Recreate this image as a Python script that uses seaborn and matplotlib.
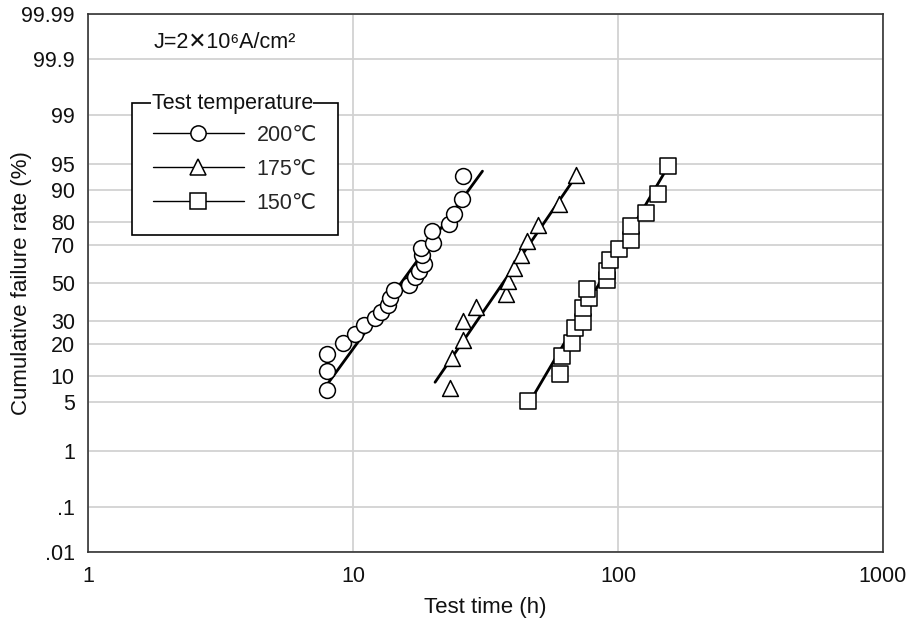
import numpy as np
import pandas as pd
import matplotlib
matplotlib.use("Agg")
import matplotlib.pyplot as plt
from matplotlib.lines import Line2D
from matplotlib.ticker import NullLocator, FixedLocator, FixedFormatter
import seaborn as sns
from statistics import NormalDist

# ---- data ----
t200_time = [8.0, 8.0, 8.0, 9.2, 10.2, 11.0, 12.1, 12.7, 13.6, 13.8, 14.3, 16.3,
             17.2, 17.8, 18.6, 18.2, 18.1, 20.0, 19.8, 23.1, 24.1, 25.8, 26.1]
t200_pct = [6.9, 11.3, 16.2, 20.4, 23.9, 28.1, 31.3, 34.5, 38.2, 41.9, 46.1, 49.1,
            53.5, 56.8, 60.3, 65.1, 68.5, 70.9, 76.2, 79.4, 83.1, 87.8, 93.1]

t175_time = [23.3, 23.7, 25.9, 25.9, 29.2, 37.9, 38.5, 40.6, 43.1, 45.4, 50.0, 60.0, 69.5]
t175_pct = [7.4, 14.9, 21.4, 29.9, 36.9, 43.9, 51.1, 58.2, 65.1, 72.0, 79.0, 86.4, 93.3]

t150_time = [45.6, 60.4, 61.6, 67.2, 68.8, 73.6, 73.6, 77.9, 76.2, 90.7, 90.7, 92.9,
             100.9, 111.7, 111.7, 127.2, 141.9, 154.8]
t150_pct = [5.2, 10.3, 15.6, 20.4, 26.8, 29.6, 36.6, 42.0, 46.7, 51.8, 56.6, 62.7,
            68.1, 72.4, 78.5, 83.4, 89.0, 94.7]

# fitted lognormal lines (end points)
fit200_time, fit200_pct = [8.1, 30.8], [8.5, 93.9]
fit175_time, fit175_pct = [20.4, 67.3], [8.5, 92.0]
fit150_time, fit150_pct = [48.6, 149.1], [6.4, 93.5]

labels = ["200℃", "175℃", "150℃"]
markers = ["o", "^", "s"]

y_ticks = [0.01, 0.1, 1, 5, 10, 20, 30, 50, 70, 80, 90, 95, 99, 99.9, 99.99]
y_ticklabels = [".01", ".1", "1", "5", "10", "20", "30", "50", "70", "80", "90",
                "95", "99", "99.9", "99.99"]
x_ticks = [1, 10, 100, 1000]
x_ticklabels = ["1", "10", "100", "1000"]

# ---- style ----
sns.set_theme(style="white")
plt.rcParams["font.family"] = ["Liberation Sans", "DejaVu Sans"]

# probability (probit) scale
_nd = NormalDist()
_ppf = np.vectorize(_nd.inv_cdf, otypes=[float])
_cdf = np.vectorize(_nd.cdf, otypes=[float])


def probit(p):
    p = np.clip(np.asarray(p, dtype=float) / 100.0, 1e-9, 1 - 1e-9)
    return _ppf(p)


def probit_inv(z):
    return _cdf(np.asarray(z, dtype=float)) * 100.0


fig = plt.figure(figsize=(9.09, 6.27), dpi=100)
ax = fig.add_axes([88 / 909, 1 - 552 / 627, 795 / 909, 538 / 627])

series = [
    (t200_time, t200_pct, fit200_time, fit200_pct),
    (t175_time, t175_pct, fit175_time, fit175_pct),
    (t150_time, t150_pct, fit150_time, fit150_pct),
]

for (tx, py, fx, fy), mk in zip(series, markers):
    sns.lineplot(x=fx, y=fy, color="black", linewidth=2.0, ax=ax,
                 legend=False, sort=False, zorder=2)
    sns.scatterplot(x=tx, y=py, marker=mk, s=130, facecolor="white",
                    edgecolor="black", linewidth=1.1, ax=ax, legend=False, zorder=3)

ax.set_xscale("log")
ax.set_yscale("function", functions=(probit, probit_inv))
ax.set_xlim(1, 1000)
ax.set_ylim(0.01, 99.99)

ax.xaxis.set_major_locator(FixedLocator(x_ticks))
ax.xaxis.set_major_formatter(FixedFormatter(x_ticklabels))
ax.xaxis.set_minor_locator(NullLocator())
ax.yaxis.set_major_locator(FixedLocator(y_ticks))
ax.yaxis.set_major_formatter(FixedFormatter(y_ticklabels))
ax.yaxis.set_minor_locator(NullLocator())

ax.grid(True, color="#d2d2d2", linewidth=1.3)
ax.set_axisbelow(True)
ax.tick_params(axis="both", direction="in", length=12, width=1.1, color="#222222",
               labelsize=15.5, labelcolor="#111111")
ax.tick_params(axis="y", pad=9.5)
ax.tick_params(axis="x", pad=10)
for sp in ax.spines.values():
    sp.set_color("#333333")
    sp.set_linewidth(1.2)

ax.set_xlabel("Test time (h)", fontsize=16, color="#111111")
ax.set_ylabel("Cumulative failure rate (%)", fontsize=16, color="#111111")
ax.xaxis.set_label_coords(0.5, (552 - 607) / 538)
ax.yaxis.set_label_coords((22 - 88) / 795, 0.5)
ax.xaxis.label.set_va("center")
ax.yaxis.label.set_va("center")

ax.text(0.083, 0.947, "J=2✕10⁶A/cm²", transform=ax.transAxes,
        fontsize=15.5, ha="left", va="center", color="#111111")

handles = [Line2D([0], [0], color="black", linewidth=1.0, marker=m, markersize=11,
                  markerfacecolor="white", markeredgecolor="black",
                  markeredgewidth=1.1) for m in markers]
leg = ax.legend(handles, labels, loc="upper left", bbox_to_anchor=(0.055, 0.834),
                borderaxespad=0, fontsize=15.5, handlelength=4.2, handletextpad=0.6,
                labelspacing=0.6, borderpad=1.0, fancybox=False, framealpha=1,
                edgecolor="black")
leg.get_frame().set_linewidth(1.2)

# legend title sitting on the frame border
fig.canvas.draw()
bb = leg.get_frame().get_window_extent()
x0, y1 = ax.transAxes.inverted().transform((bb.x0, bb.y1))
ax.text(x0 + 0.025, y1, "Test temperature", transform=ax.transAxes, fontsize=15.5,
        ha="left", va="center", color="#111111", zorder=10,
        bbox=dict(facecolor="white", edgecolor="none", pad=0.5))

fig.savefig("out.png", dpi=100)
